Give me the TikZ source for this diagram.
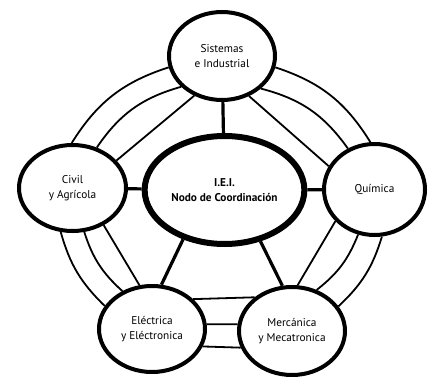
\documentclass[tikz,border=0pt]{standalone}
\usepackage{fontspec}
\setmainfont{PT Sans}
\usetikzlibrary{shapes.geometric}
\begin{document}
\begin{tikzpicture}[x=1pt,y=1pt,
            area/.style={ellipse, draw, line width=4pt, fill=white, align=center,
                font=\fontsize{11.3}{14.5}\selectfont},
            nodo/.style={area, line width=6pt, font=\bfseries\fontsize{11.3}{14.5}\selectfont},
            radio/.style={line width=3.2pt},
            enlace/.style={line width=1.8pt}]

            \useasboundingbox (0,0) rectangle (428,-377);

            \node[nodo, minimum width=129pt, minimum height=108pt] (nodo) at (224.5,-190) {I.E.I.\\Nodo de Coordinación};
            \node[area, minimum width=106pt, minimum height=88pt] (sis) at (222,-56) {Sistemas\\e Industrial};
            \node[area, minimum width=107pt, minimum height=86pt] (civ) at (72.5,-188) {Civil\\y Agrícola};
            \node[area, minimum width=101pt, minimum height=91pt] (qui) at (374.5,-189.5) {Química};
            \node[area, minimum width=106pt, minimum height=86pt] (ele) at (152,-329) {Eléctrica\\y Eléctronica};
            \node[area, minimum width=106pt, minimum height=88pt] (mec) at (292,-331) {Mercánica\\y Mecatronica};

            \draw[radio] (nodo) -- (sis);
            \draw[radio] (nodo) -- (civ);
            \draw[radio] (nodo) -- (qui);
            \draw[radio] (nodo.230) -- (ele.78);
            \draw[radio] (nodo.305) -- (mec.102);

            \draw[enlace] (sis.192) to[bend right=20] (civ.91);
            \draw[enlace] (sis.217) to[bend right=20] (civ.59);
            \draw[enlace] (sis.235) -- (civ.32);
            \draw[enlace] (sis.348) to[bend left=20] (qui.95);
            \draw[enlace] (sis.320) to[bend left=20] (qui.123);
            \draw[enlace] (sis.304) -- (qui.153);
            \draw[enlace] (civ.255) to[bend right=15] (ele.154);
            \draw[enlace] (civ.285) to[bend right=15] (ele.128);
            \draw[enlace] (civ.310) -- (ele.106);
            \draw[enlace] (qui.279) to[bend left=15] (mec.28);
            \draw[enlace] (qui.250) to[bend left=15] (mec.59);
            \draw[enlace] (qui.219) -- (mec.83);
            \draw[enlace] (ele.36) -- (mec.138);
            \draw[enlace] (ele.5) -- (mec.173);
            \draw[enlace] (ele.341) -- (mec.198);
\end{tikzpicture}
\end{document}
